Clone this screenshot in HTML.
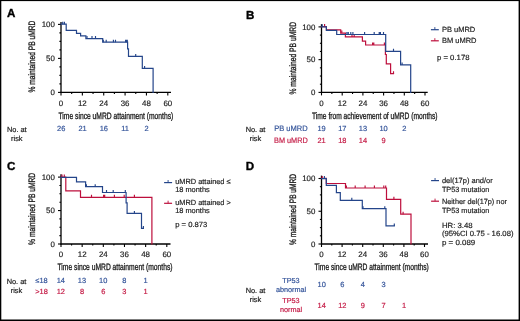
<!DOCTYPE html>
<html><head><meta charset="utf-8"><title>Figure</title>
<style>
html,body{margin:0;padding:0;background:#fff;}
body{width:520px;height:321px;overflow:hidden;}
svg{display:block;font-family:"Liberation Sans",sans-serif;will-change:transform;text-rendering:geometricPrecision;}
</style></head>
<body>
<svg width="520" height="321" viewBox="0 0 520 321">
<rect x="0" y="0" width="520" height="321" fill="#fff"/>
<g>
<text x="7.0" y="17.1" font-size="11.6" text-anchor="start" fill="#000" stroke="#000" stroke-width="0.35" font-weight="bold" >A</text>
<text transform="translate(34.8,92.6) rotate(-90)" x="0" y="0" font-size="9.4" fill="#1a1a1a" stroke="#1a1a1a" stroke-width="0.32" textLength="72.0" lengthAdjust="spacingAndGlyphs">% maintained PB uMRD</text>
<line x1="61.0" y1="21.9" x2="61.0" y2="93.0" stroke="#000" stroke-width="1.3"/>
<line x1="60.5" y1="92.4" x2="171" y2="92.4" stroke="#000" stroke-width="1.3"/>
<line x1="58.0" y1="92.40" x2="61.0" y2="92.40" stroke="#000" stroke-width="1.1"/>
<line x1="59.4" y1="83.90" x2="61.0" y2="83.90" stroke="#000" stroke-width="1.1"/>
<line x1="59.4" y1="75.40" x2="61.0" y2="75.40" stroke="#000" stroke-width="1.1"/>
<line x1="59.4" y1="66.90" x2="61.0" y2="66.90" stroke="#000" stroke-width="1.1"/>
<line x1="58.0" y1="58.40" x2="61.0" y2="58.40" stroke="#000" stroke-width="1.1"/>
<line x1="59.4" y1="49.90" x2="61.0" y2="49.90" stroke="#000" stroke-width="1.1"/>
<line x1="59.4" y1="41.40" x2="61.0" y2="41.40" stroke="#000" stroke-width="1.1"/>
<line x1="59.4" y1="32.90" x2="61.0" y2="32.90" stroke="#000" stroke-width="1.1"/>
<line x1="58.0" y1="24.40" x2="61.0" y2="24.40" stroke="#000" stroke-width="1.1"/>
<line x1="61.00" y1="92.4" x2="61.00" y2="95.4" stroke="#000" stroke-width="1.1"/>
<line x1="71.68" y1="92.4" x2="71.68" y2="94.0" stroke="#000" stroke-width="1.1"/>
<line x1="82.36" y1="92.4" x2="82.36" y2="95.4" stroke="#000" stroke-width="1.1"/>
<line x1="93.04" y1="92.4" x2="93.04" y2="94.0" stroke="#000" stroke-width="1.1"/>
<line x1="103.72" y1="92.4" x2="103.72" y2="95.4" stroke="#000" stroke-width="1.1"/>
<line x1="114.40" y1="92.4" x2="114.40" y2="94.0" stroke="#000" stroke-width="1.1"/>
<line x1="125.08" y1="92.4" x2="125.08" y2="95.4" stroke="#000" stroke-width="1.1"/>
<line x1="135.76" y1="92.4" x2="135.76" y2="94.0" stroke="#000" stroke-width="1.1"/>
<line x1="146.44" y1="92.4" x2="146.44" y2="95.4" stroke="#000" stroke-width="1.1"/>
<line x1="157.12" y1="92.4" x2="157.12" y2="94.0" stroke="#000" stroke-width="1.1"/>
<line x1="167.80" y1="92.4" x2="167.80" y2="95.4" stroke="#000" stroke-width="1.1"/>
<text x="54.8" y="27.20" font-size="7.9" text-anchor="end" fill="#222" stroke="#222" stroke-width="0.18" font-weight="normal" >100</text>
<text x="54.8" y="61.20" font-size="7.9" text-anchor="end" fill="#222" stroke="#222" stroke-width="0.18" font-weight="normal" >50</text>
<text x="54.8" y="95.20" font-size="7.9" text-anchor="end" fill="#222" stroke="#222" stroke-width="0.18" font-weight="normal" >0</text>
<text x="61.00" y="105.80000000000001" font-size="7.9" text-anchor="middle" fill="#222" stroke="#222" stroke-width="0.18" font-weight="normal" >0</text>
<text x="82.36" y="105.80000000000001" font-size="7.9" text-anchor="middle" fill="#222" stroke="#222" stroke-width="0.18" font-weight="normal" >12</text>
<text x="103.72" y="105.80000000000001" font-size="7.9" text-anchor="middle" fill="#222" stroke="#222" stroke-width="0.18" font-weight="normal" >24</text>
<text x="125.08" y="105.80000000000001" font-size="7.9" text-anchor="middle" fill="#222" stroke="#222" stroke-width="0.18" font-weight="normal" >36</text>
<text x="146.44" y="105.80000000000001" font-size="7.9" text-anchor="middle" fill="#222" stroke="#222" stroke-width="0.18" font-weight="normal" >48</text>
<text x="167.80" y="105.80000000000001" font-size="7.9" text-anchor="middle" fill="#222" stroke="#222" stroke-width="0.18" font-weight="normal" >60</text>
<text x="58.5" y="118.8" font-size="9.4" text-anchor="start" fill="#1a1a1a" stroke="#1a1a1a" stroke-width="0.32" textLength="114.8" lengthAdjust="spacingAndGlyphs">Time since uMRD attainment (months)</text>
<path d="M61,24.2 H66.2 V30.4 H76.5 V33.3 H80.6 V35.9 H85.9 V38.6 H102.7 V42.2 H127.6 V48.8 H128.5 V56.4 H142.3 V68.4 H153.1 V92.4" fill="none" stroke="#24458a" stroke-width="1.2" stroke-linejoin="miter" stroke-linecap="square"/>
<path d="M62.7,24.2 v-2.5 M64.4,24.2 v-2.5 M87.0,38.6 v-2.5 M92,38.6 v-2.5 M95.5,38.6 v-2.5 M103.3,42.2 v-2.5 M106.2,42.2 v-2.5 M113.4,42.2 v-2.5 M115.5,42.2 v-2.5 M125.6,42.2 v-2.5 M126.5,42.2 v-2.5 M127.3,42.2 v-2.5 M135.7,56.4 v-2.5 M144.6,68.4 v-2.5" fill="none" stroke="#24458a" stroke-width="1.15"/>
<text x="16.8" y="132.1" font-size="7.4" text-anchor="middle" fill="#1a1a1a" stroke="#1a1a1a" stroke-width="0.18" font-weight="normal" >No. at</text>
<text x="16.8" y="141.0" font-size="7.4" text-anchor="middle" fill="#1a1a1a" stroke="#1a1a1a" stroke-width="0.18" font-weight="normal" >risk</text>
<text x="61.20" y="131.0" font-size="7.45" text-anchor="middle" fill="#34549a" stroke="#34549a" stroke-width="0.18" font-weight="normal" >26</text>
<text x="82.52" y="131.0" font-size="7.45" text-anchor="middle" fill="#34549a" stroke="#34549a" stroke-width="0.18" font-weight="normal" >21</text>
<text x="103.84" y="131.0" font-size="7.45" text-anchor="middle" fill="#34549a" stroke="#34549a" stroke-width="0.18" font-weight="normal" >16</text>
<text x="125.16" y="131.0" font-size="7.45" text-anchor="middle" fill="#34549a" stroke="#34549a" stroke-width="0.18" font-weight="normal" >11</text>
<text x="146.48" y="131.0" font-size="7.45" text-anchor="middle" fill="#34549a" stroke="#34549a" stroke-width="0.18" font-weight="normal" >2</text>
<text x="246.0" y="19.2" font-size="11.6" text-anchor="start" fill="#000" stroke="#000" stroke-width="0.35" font-weight="bold" >B</text>
<text transform="translate(295.6,94.5) rotate(-90)" x="0" y="0" font-size="9.4" fill="#1a1a1a" stroke="#1a1a1a" stroke-width="0.32" textLength="72.5" lengthAdjust="spacingAndGlyphs">% maintained PB uMRD</text>
<line x1="321.5" y1="24.2" x2="321.5" y2="93.0" stroke="#000" stroke-width="1.3"/>
<line x1="321.0" y1="92.4" x2="427.7" y2="92.4" stroke="#000" stroke-width="1.3"/>
<line x1="318.5" y1="92.40" x2="321.5" y2="92.40" stroke="#000" stroke-width="1.1"/>
<line x1="319.9" y1="84.21" x2="321.5" y2="84.21" stroke="#000" stroke-width="1.1"/>
<line x1="319.9" y1="76.03" x2="321.5" y2="76.03" stroke="#000" stroke-width="1.1"/>
<line x1="319.9" y1="67.84" x2="321.5" y2="67.84" stroke="#000" stroke-width="1.1"/>
<line x1="318.5" y1="59.65" x2="321.5" y2="59.65" stroke="#000" stroke-width="1.1"/>
<line x1="319.9" y1="51.46" x2="321.5" y2="51.46" stroke="#000" stroke-width="1.1"/>
<line x1="319.9" y1="43.28" x2="321.5" y2="43.28" stroke="#000" stroke-width="1.1"/>
<line x1="319.9" y1="35.09" x2="321.5" y2="35.09" stroke="#000" stroke-width="1.1"/>
<line x1="318.5" y1="26.90" x2="321.5" y2="26.90" stroke="#000" stroke-width="1.1"/>
<line x1="321.50" y1="92.4" x2="321.50" y2="95.4" stroke="#000" stroke-width="1.1"/>
<line x1="331.85" y1="92.4" x2="331.85" y2="94.0" stroke="#000" stroke-width="1.1"/>
<line x1="342.20" y1="92.4" x2="342.20" y2="95.4" stroke="#000" stroke-width="1.1"/>
<line x1="352.55" y1="92.4" x2="352.55" y2="94.0" stroke="#000" stroke-width="1.1"/>
<line x1="362.90" y1="92.4" x2="362.90" y2="95.4" stroke="#000" stroke-width="1.1"/>
<line x1="373.25" y1="92.4" x2="373.25" y2="94.0" stroke="#000" stroke-width="1.1"/>
<line x1="383.60" y1="92.4" x2="383.60" y2="95.4" stroke="#000" stroke-width="1.1"/>
<line x1="393.95" y1="92.4" x2="393.95" y2="94.0" stroke="#000" stroke-width="1.1"/>
<line x1="404.30" y1="92.4" x2="404.30" y2="95.4" stroke="#000" stroke-width="1.1"/>
<line x1="414.65" y1="92.4" x2="414.65" y2="94.0" stroke="#000" stroke-width="1.1"/>
<line x1="425.00" y1="92.4" x2="425.00" y2="95.4" stroke="#000" stroke-width="1.1"/>
<text x="315.3" y="29.70" font-size="7.9" text-anchor="end" fill="#222" stroke="#222" stroke-width="0.18" font-weight="normal" >100</text>
<text x="315.3" y="62.45" font-size="7.9" text-anchor="end" fill="#222" stroke="#222" stroke-width="0.18" font-weight="normal" >50</text>
<text x="315.3" y="95.20" font-size="7.9" text-anchor="end" fill="#222" stroke="#222" stroke-width="0.18" font-weight="normal" >0</text>
<text x="321.50" y="105.80000000000001" font-size="7.9" text-anchor="middle" fill="#222" stroke="#222" stroke-width="0.18" font-weight="normal" >0</text>
<text x="342.20" y="105.80000000000001" font-size="7.9" text-anchor="middle" fill="#222" stroke="#222" stroke-width="0.18" font-weight="normal" >12</text>
<text x="362.90" y="105.80000000000001" font-size="7.9" text-anchor="middle" fill="#222" stroke="#222" stroke-width="0.18" font-weight="normal" >24</text>
<text x="383.60" y="105.80000000000001" font-size="7.9" text-anchor="middle" fill="#222" stroke="#222" stroke-width="0.18" font-weight="normal" >36</text>
<text x="404.30" y="105.80000000000001" font-size="7.9" text-anchor="middle" fill="#222" stroke="#222" stroke-width="0.18" font-weight="normal" >48</text>
<text x="425.00" y="105.80000000000001" font-size="7.9" text-anchor="middle" fill="#222" stroke="#222" stroke-width="0.18" font-weight="normal" >60</text>
<text x="312.0" y="118.6" font-size="9.4" text-anchor="start" fill="#1a1a1a" stroke="#1a1a1a" stroke-width="0.32" textLength="125.5" lengthAdjust="spacingAndGlyphs">Time from achievement of uMRD (months)</text>
<path d="M321.6,26.6 H326.4 V29.9 H340.7 V33.1 H345.4 V36.9 H362.4 V41.2 H365.6 V45 H385.4 V54.5 H386.3 V63.9 H390.6 V73.7 H393.5" fill="none" stroke="#bd0f3c" stroke-width="1.2" stroke-linejoin="miter" stroke-linecap="square"/>
<path d="M324.6,26.6 v-2.5 M341.8,33.1 v-2.5 M352,36.9 v-2.5 M354.2,36.9 v-2.5 M372.6,45 v-2.5 M373.8,45 v-2.5 M384.4,45 v-2.5 M393.5,73.7 v-2.5" fill="none" stroke="#bd0f3c" stroke-width="1.15"/>
<path d="M321.6,26.8 H326.4 V30.4 H336.7 V34.5 H385.7 V51.3 H400.6 V64.9 H410.7 V92.5" fill="none" stroke="#24458a" stroke-width="1.2" stroke-linejoin="miter" stroke-linecap="square"/>
<path d="M322.2,26.8 v-2.5 M346.9,34.5 v-2.5 M348.3,34.5 v-2.5 M350.8,34.5 v-2.5 M352.9,34.5 v-2.5 M364.6,34.5 v-2.5 M374.2,34.5 v-2.5 M379.2,34.5 v-2.5 M380.4,34.5 v-2.5 M383.5,34.5 v-2.5 M393.5,51.3 v-2.5 M402.1,64.9 v-2.5" fill="none" stroke="#24458a" stroke-width="1.15"/>
<line x1="430.9" y1="29.7" x2="438.8" y2="29.7" stroke="#24458a" stroke-width="1.2"/>
<line x1="434.85" y1="29.7" x2="434.85" y2="27.099999999999998" stroke="#24458a" stroke-width="0.9"/>
<text x="441.9" y="31.9" font-size="7.5" text-anchor="start" fill="#1e1e1e" stroke="#1e1e1e" stroke-width="0.18" font-weight="normal" >PB uMRD</text>
<line x1="430.9" y1="40.8" x2="438.8" y2="40.8" stroke="#bd0f3c" stroke-width="1.2"/>
<line x1="434.85" y1="40.8" x2="434.85" y2="38.199999999999996" stroke="#bd0f3c" stroke-width="0.9"/>
<text x="441.9" y="43.3" font-size="7.5" text-anchor="start" fill="#1e1e1e" stroke="#1e1e1e" stroke-width="0.18" font-weight="normal" >BM uMRD</text>
<text x="437.0" y="59.7" font-size="7.5" text-anchor="start" fill="#1e1e1e" stroke="#1e1e1e" stroke-width="0.18" font-weight="normal"  textLength="32.5" lengthAdjust="spacingAndGlyphs">p = 0.178</text>
<text x="255.5" y="132.2" font-size="7.4" text-anchor="middle" fill="#1a1a1a" stroke="#1a1a1a" stroke-width="0.18" font-weight="normal" >No. at</text>
<text x="255.5" y="141.1" font-size="7.4" text-anchor="middle" fill="#1a1a1a" stroke="#1a1a1a" stroke-width="0.18" font-weight="normal" >risk</text>
<text x="274.2" y="130.9" font-size="7.8" text-anchor="start" fill="#34549a" stroke="#34549a" stroke-width="0.18" font-weight="normal"  textLength="33.4" lengthAdjust="spacingAndGlyphs">PB uMRD</text>
<text x="274.0" y="142.7" font-size="7.8" text-anchor="start" fill="#c41a45" stroke="#c41a45" stroke-width="0.18" font-weight="normal"  textLength="33.8" lengthAdjust="spacingAndGlyphs">BM uMRD</text>
<text x="321.60" y="131.0" font-size="7.45" text-anchor="middle" fill="#34549a" stroke="#34549a" stroke-width="0.18" font-weight="normal" >19</text>
<text x="342.28" y="131.0" font-size="7.45" text-anchor="middle" fill="#34549a" stroke="#34549a" stroke-width="0.18" font-weight="normal" >17</text>
<text x="362.96" y="131.0" font-size="7.45" text-anchor="middle" fill="#34549a" stroke="#34549a" stroke-width="0.18" font-weight="normal" >13</text>
<text x="383.64" y="131.0" font-size="7.45" text-anchor="middle" fill="#34549a" stroke="#34549a" stroke-width="0.18" font-weight="normal" >10</text>
<text x="404.32" y="131.0" font-size="7.45" text-anchor="middle" fill="#34549a" stroke="#34549a" stroke-width="0.18" font-weight="normal" >2</text>
<text x="321.60" y="142.8" font-size="7.45" text-anchor="middle" fill="#c41a45" stroke="#c41a45" stroke-width="0.18" font-weight="normal" >21</text>
<text x="342.28" y="142.8" font-size="7.45" text-anchor="middle" fill="#c41a45" stroke="#c41a45" stroke-width="0.18" font-weight="normal" >18</text>
<text x="362.96" y="142.8" font-size="7.45" text-anchor="middle" fill="#c41a45" stroke="#c41a45" stroke-width="0.18" font-weight="normal" >14</text>
<text x="383.64" y="142.8" font-size="7.45" text-anchor="middle" fill="#c41a45" stroke="#c41a45" stroke-width="0.18" font-weight="normal" >9</text>
<text x="7.0" y="169.8" font-size="11.6" text-anchor="start" fill="#000" stroke="#000" stroke-width="0.35" font-weight="bold" >C</text>
<text transform="translate(35.0,244.9) rotate(-90)" x="0" y="0" font-size="9.4" fill="#1a1a1a" stroke="#1a1a1a" stroke-width="0.32" textLength="72.1" lengthAdjust="spacingAndGlyphs">% maintained PB uMRD</text>
<line x1="61.0" y1="174.3" x2="61.0" y2="244.6" stroke="#000" stroke-width="1.3"/>
<line x1="60.5" y1="244.0" x2="170.5" y2="244.0" stroke="#000" stroke-width="1.3"/>
<line x1="58.0" y1="244.00" x2="61.0" y2="244.00" stroke="#000" stroke-width="1.1"/>
<line x1="59.4" y1="235.64" x2="61.0" y2="235.64" stroke="#000" stroke-width="1.1"/>
<line x1="59.4" y1="227.28" x2="61.0" y2="227.28" stroke="#000" stroke-width="1.1"/>
<line x1="59.4" y1="218.91" x2="61.0" y2="218.91" stroke="#000" stroke-width="1.1"/>
<line x1="58.0" y1="210.55" x2="61.0" y2="210.55" stroke="#000" stroke-width="1.1"/>
<line x1="59.4" y1="202.19" x2="61.0" y2="202.19" stroke="#000" stroke-width="1.1"/>
<line x1="59.4" y1="193.82" x2="61.0" y2="193.82" stroke="#000" stroke-width="1.1"/>
<line x1="59.4" y1="185.46" x2="61.0" y2="185.46" stroke="#000" stroke-width="1.1"/>
<line x1="58.0" y1="177.10" x2="61.0" y2="177.10" stroke="#000" stroke-width="1.1"/>
<line x1="61.00" y1="244.0" x2="61.00" y2="247.0" stroke="#000" stroke-width="1.1"/>
<line x1="71.58" y1="244.0" x2="71.58" y2="245.6" stroke="#000" stroke-width="1.1"/>
<line x1="82.16" y1="244.0" x2="82.16" y2="247.0" stroke="#000" stroke-width="1.1"/>
<line x1="92.74" y1="244.0" x2="92.74" y2="245.6" stroke="#000" stroke-width="1.1"/>
<line x1="103.32" y1="244.0" x2="103.32" y2="247.0" stroke="#000" stroke-width="1.1"/>
<line x1="113.90" y1="244.0" x2="113.90" y2="245.6" stroke="#000" stroke-width="1.1"/>
<line x1="124.48" y1="244.0" x2="124.48" y2="247.0" stroke="#000" stroke-width="1.1"/>
<line x1="135.06" y1="244.0" x2="135.06" y2="245.6" stroke="#000" stroke-width="1.1"/>
<line x1="145.64" y1="244.0" x2="145.64" y2="247.0" stroke="#000" stroke-width="1.1"/>
<line x1="156.22" y1="244.0" x2="156.22" y2="245.6" stroke="#000" stroke-width="1.1"/>
<line x1="166.80" y1="244.0" x2="166.80" y2="247.0" stroke="#000" stroke-width="1.1"/>
<text x="54.8" y="179.90" font-size="7.9" text-anchor="end" fill="#222" stroke="#222" stroke-width="0.18" font-weight="normal" >100</text>
<text x="54.8" y="213.35" font-size="7.9" text-anchor="end" fill="#222" stroke="#222" stroke-width="0.18" font-weight="normal" >50</text>
<text x="54.8" y="246.80" font-size="7.9" text-anchor="end" fill="#222" stroke="#222" stroke-width="0.18" font-weight="normal" >0</text>
<text x="61.00" y="257.4" font-size="7.9" text-anchor="middle" fill="#222" stroke="#222" stroke-width="0.18" font-weight="normal" >0</text>
<text x="82.16" y="257.4" font-size="7.9" text-anchor="middle" fill="#222" stroke="#222" stroke-width="0.18" font-weight="normal" >12</text>
<text x="103.32" y="257.4" font-size="7.9" text-anchor="middle" fill="#222" stroke="#222" stroke-width="0.18" font-weight="normal" >24</text>
<text x="124.48" y="257.4" font-size="7.9" text-anchor="middle" fill="#222" stroke="#222" stroke-width="0.18" font-weight="normal" >36</text>
<text x="145.64" y="257.4" font-size="7.9" text-anchor="middle" fill="#222" stroke="#222" stroke-width="0.18" font-weight="normal" >48</text>
<text x="166.80" y="257.4" font-size="7.9" text-anchor="middle" fill="#222" stroke="#222" stroke-width="0.18" font-weight="normal" >60</text>
<text x="57.5" y="270.0" font-size="9.4" text-anchor="start" fill="#1a1a1a" stroke="#1a1a1a" stroke-width="0.32" textLength="115.0" lengthAdjust="spacingAndGlyphs">Time since uMRD attainment (months)</text>
<path d="M61,177.1 H65.8 V190.9 H80.5 V197.3 H151.9 V244" fill="none" stroke="#bd0f3c" stroke-width="1.2" stroke-linejoin="miter" stroke-linecap="square"/>
<path d="M62,177.1 v-2.5 M64.3,177.1 v-2.5 M91.5,197.3 v-2.5 M103.6,197.3 v-2.5 M104.7,197.3 v-2.5 M114.4,197.3 v-2.5 M124.2,197.3 v-2.5 M134.4,197.3 v-2.5" fill="none" stroke="#bd0f3c" stroke-width="1.15"/>
<path d="M61,177.3 H76.5 V181.8 H85.6 V186.7 H102.5 V192.5 H126.1 V202.9 H127.1 V213.4 H141.5 V228.4 H143.4" fill="none" stroke="#24458a" stroke-width="1.2" stroke-linejoin="miter" stroke-linecap="square"/>
<path d="M86.4,186.7 v-2.5 M95.2,186.7 v-2.5 M106.5,192.5 v-2.5 M113.2,192.5 v-2.5 M125.3,192.5 v-2.5 M134.4,213.4 v-2.5 M143.4,228.4 v-2.5" fill="none" stroke="#24458a" stroke-width="1.15"/>
<line x1="164.1" y1="182.6" x2="172.1" y2="182.6" stroke="#24458a" stroke-width="1.2"/>
<line x1="168.1" y1="182.6" x2="168.1" y2="180.0" stroke="#24458a" stroke-width="0.9"/>
<text x="175.2" y="183.7" font-size="7.4" text-anchor="start" fill="#1e1e1e" stroke="#1e1e1e" stroke-width="0.18" font-weight="normal" >uMRD attained ≤</text>
<text x="175.2" y="192.4" font-size="7.4" text-anchor="start" fill="#1e1e1e" stroke="#1e1e1e" stroke-width="0.18" font-weight="normal" >18 months</text>
<line x1="164.1" y1="203.3" x2="172.1" y2="203.3" stroke="#bd0f3c" stroke-width="1.2"/>
<line x1="168.1" y1="203.3" x2="168.1" y2="200.70000000000002" stroke="#bd0f3c" stroke-width="0.9"/>
<text x="175.2" y="204.5" font-size="7.4" text-anchor="start" fill="#1e1e1e" stroke="#1e1e1e" stroke-width="0.18" font-weight="normal" >uMRD attained &gt;</text>
<text x="175.2" y="213.1" font-size="7.4" text-anchor="start" fill="#1e1e1e" stroke="#1e1e1e" stroke-width="0.18" font-weight="normal" >18 months</text>
<text x="175.2" y="227.1" font-size="7.4" text-anchor="start" fill="#1e1e1e" stroke="#1e1e1e" stroke-width="0.18" font-weight="normal"  textLength="32.1" lengthAdjust="spacingAndGlyphs">p = 0.873</text>
<text x="16.5" y="283.8" font-size="7.4" text-anchor="middle" fill="#1a1a1a" stroke="#1a1a1a" stroke-width="0.18" font-weight="normal" >No. at</text>
<text x="16.5" y="292.9" font-size="7.4" text-anchor="middle" fill="#1a1a1a" stroke="#1a1a1a" stroke-width="0.18" font-weight="normal" >risk</text>
<text x="41.5" y="283.0" font-size="7.4" text-anchor="middle" fill="#34549a" stroke="#34549a" stroke-width="0.18" font-weight="normal" >≤18</text>
<text x="41.5" y="294.0" font-size="7.4" text-anchor="middle" fill="#c41a45" stroke="#c41a45" stroke-width="0.18" font-weight="normal" >&gt;18</text>
<text x="60.80" y="282.6" font-size="7.45" text-anchor="middle" fill="#34549a" stroke="#34549a" stroke-width="0.18" font-weight="normal" >14</text>
<text x="82.00" y="282.6" font-size="7.45" text-anchor="middle" fill="#34549a" stroke="#34549a" stroke-width="0.18" font-weight="normal" >13</text>
<text x="103.20" y="282.6" font-size="7.45" text-anchor="middle" fill="#34549a" stroke="#34549a" stroke-width="0.18" font-weight="normal" >10</text>
<text x="124.40" y="282.6" font-size="7.45" text-anchor="middle" fill="#34549a" stroke="#34549a" stroke-width="0.18" font-weight="normal" >8</text>
<text x="145.60" y="282.6" font-size="7.45" text-anchor="middle" fill="#34549a" stroke="#34549a" stroke-width="0.18" font-weight="normal" >1</text>
<text x="60.80" y="293.8" font-size="7.45" text-anchor="middle" fill="#c41a45" stroke="#c41a45" stroke-width="0.18" font-weight="normal" >12</text>
<text x="82.00" y="293.8" font-size="7.45" text-anchor="middle" fill="#c41a45" stroke="#c41a45" stroke-width="0.18" font-weight="normal" >8</text>
<text x="103.20" y="293.8" font-size="7.45" text-anchor="middle" fill="#c41a45" stroke="#c41a45" stroke-width="0.18" font-weight="normal" >6</text>
<text x="124.40" y="293.8" font-size="7.45" text-anchor="middle" fill="#c41a45" stroke="#c41a45" stroke-width="0.18" font-weight="normal" >3</text>
<text x="145.60" y="293.8" font-size="7.45" text-anchor="middle" fill="#c41a45" stroke="#c41a45" stroke-width="0.18" font-weight="normal" >1</text>
<text x="245.8" y="169.8" font-size="11.6" text-anchor="start" fill="#000" stroke="#000" stroke-width="0.35" font-weight="bold" >D</text>
<text transform="translate(295.5,244.9) rotate(-90)" x="0" y="0" font-size="9.4" fill="#1a1a1a" stroke="#1a1a1a" stroke-width="0.32" textLength="70.9" lengthAdjust="spacingAndGlyphs">% maintained PB uMRD</text>
<line x1="321.5" y1="175.6" x2="321.5" y2="244.6" stroke="#000" stroke-width="1.3"/>
<line x1="321.0" y1="244.0" x2="428.0" y2="244.0" stroke="#000" stroke-width="1.3"/>
<line x1="318.5" y1="244.00" x2="321.5" y2="244.00" stroke="#000" stroke-width="1.1"/>
<line x1="319.9" y1="235.81" x2="321.5" y2="235.81" stroke="#000" stroke-width="1.1"/>
<line x1="319.9" y1="227.62" x2="321.5" y2="227.62" stroke="#000" stroke-width="1.1"/>
<line x1="319.9" y1="219.44" x2="321.5" y2="219.44" stroke="#000" stroke-width="1.1"/>
<line x1="318.5" y1="211.25" x2="321.5" y2="211.25" stroke="#000" stroke-width="1.1"/>
<line x1="319.9" y1="203.06" x2="321.5" y2="203.06" stroke="#000" stroke-width="1.1"/>
<line x1="319.9" y1="194.88" x2="321.5" y2="194.88" stroke="#000" stroke-width="1.1"/>
<line x1="319.9" y1="186.69" x2="321.5" y2="186.69" stroke="#000" stroke-width="1.1"/>
<line x1="318.5" y1="178.50" x2="321.5" y2="178.50" stroke="#000" stroke-width="1.1"/>
<line x1="321.50" y1="244.0" x2="321.50" y2="247.0" stroke="#000" stroke-width="1.1"/>
<line x1="331.80" y1="244.0" x2="331.80" y2="245.6" stroke="#000" stroke-width="1.1"/>
<line x1="342.10" y1="244.0" x2="342.10" y2="247.0" stroke="#000" stroke-width="1.1"/>
<line x1="352.40" y1="244.0" x2="352.40" y2="245.6" stroke="#000" stroke-width="1.1"/>
<line x1="362.70" y1="244.0" x2="362.70" y2="247.0" stroke="#000" stroke-width="1.1"/>
<line x1="373.00" y1="244.0" x2="373.00" y2="245.6" stroke="#000" stroke-width="1.1"/>
<line x1="383.30" y1="244.0" x2="383.30" y2="247.0" stroke="#000" stroke-width="1.1"/>
<line x1="393.60" y1="244.0" x2="393.60" y2="245.6" stroke="#000" stroke-width="1.1"/>
<line x1="403.90" y1="244.0" x2="403.90" y2="247.0" stroke="#000" stroke-width="1.1"/>
<line x1="414.20" y1="244.0" x2="414.20" y2="245.6" stroke="#000" stroke-width="1.1"/>
<line x1="424.50" y1="244.0" x2="424.50" y2="247.0" stroke="#000" stroke-width="1.1"/>
<text x="315.3" y="181.30" font-size="7.9" text-anchor="end" fill="#222" stroke="#222" stroke-width="0.18" font-weight="normal" >100</text>
<text x="315.3" y="214.05" font-size="7.9" text-anchor="end" fill="#222" stroke="#222" stroke-width="0.18" font-weight="normal" >50</text>
<text x="315.3" y="246.80" font-size="7.9" text-anchor="end" fill="#222" stroke="#222" stroke-width="0.18" font-weight="normal" >0</text>
<text x="321.50" y="257.4" font-size="7.9" text-anchor="middle" fill="#222" stroke="#222" stroke-width="0.18" font-weight="normal" >0</text>
<text x="342.10" y="257.4" font-size="7.9" text-anchor="middle" fill="#222" stroke="#222" stroke-width="0.18" font-weight="normal" >12</text>
<text x="362.70" y="257.4" font-size="7.9" text-anchor="middle" fill="#222" stroke="#222" stroke-width="0.18" font-weight="normal" >24</text>
<text x="383.30" y="257.4" font-size="7.9" text-anchor="middle" fill="#222" stroke="#222" stroke-width="0.18" font-weight="normal" >36</text>
<text x="403.90" y="257.4" font-size="7.9" text-anchor="middle" fill="#222" stroke="#222" stroke-width="0.18" font-weight="normal" >48</text>
<text x="424.50" y="257.4" font-size="7.9" text-anchor="middle" fill="#222" stroke="#222" stroke-width="0.18" font-weight="normal" >60</text>
<text x="314.5" y="270.0" font-size="9.4" text-anchor="start" fill="#1a1a1a" stroke="#1a1a1a" stroke-width="0.32" textLength="114.3" lengthAdjust="spacingAndGlyphs">Time since uMRD attainment (months)</text>
<path d="M321.4,178.4 H326.3 V183.5 H345.5 V188 H386.5 V199.3 H400.7 V214.2 H411 V243.8" fill="none" stroke="#bd0f3c" stroke-width="1.2" stroke-linejoin="miter" stroke-linecap="square"/>
<path d="M322.2,178.4 v-2.5 M346.4,188 v-2.5 M355.2,188 v-2.5 M365.1,188 v-2.5 M374.4,188 v-2.5 M383.8,188 v-2.5 M385.7,188 v-2.5 M393.9,199.3 v-2.5 M403.1,214.2 v-2.5" fill="none" stroke="#bd0f3c" stroke-width="1.15"/>
<path d="M321.4,178.6 H326.3 V185.3 H336.4 V192.7 H340.3 V200.3 H362.3 V208.7 H386 V225.9 H394.3" fill="none" stroke="#24458a" stroke-width="1.2" stroke-linejoin="miter" stroke-linecap="square"/>
<path d="M324.4,178.6 v-2.5 M351.8,200.3 v-2.5 M363,208.7 v-2.5 M384.8,208.7 v-2.5 M394.3,225.9 v-2.5" fill="none" stroke="#24458a" stroke-width="1.15"/>
<line x1="431.1" y1="180.6" x2="439.0" y2="180.6" stroke="#24458a" stroke-width="1.2"/>
<line x1="435.05" y1="180.6" x2="435.05" y2="178.0" stroke="#24458a" stroke-width="0.9"/>
<text x="441.9" y="183.3" font-size="7.5" text-anchor="start" fill="#1e1e1e" stroke="#1e1e1e" stroke-width="0.18" font-weight="normal" >del(17p) and/or</text>
<text x="441.9" y="192.4" font-size="7.5" text-anchor="start" fill="#1e1e1e" stroke="#1e1e1e" stroke-width="0.18" font-weight="normal"  textLength="47.4" lengthAdjust="spacingAndGlyphs">TP53 mutation</text>
<line x1="431.1" y1="201.2" x2="439.0" y2="201.2" stroke="#bd0f3c" stroke-width="1.2"/>
<line x1="435.05" y1="201.2" x2="435.05" y2="198.6" stroke="#bd0f3c" stroke-width="0.9"/>
<text x="441.9" y="203.7" font-size="7.5" text-anchor="start" fill="#1e1e1e" stroke="#1e1e1e" stroke-width="0.18" font-weight="normal"  textLength="65.0" lengthAdjust="spacingAndGlyphs">Neither del(17p) nor</text>
<text x="441.9" y="212.7" font-size="7.5" text-anchor="start" fill="#1e1e1e" stroke="#1e1e1e" stroke-width="0.18" font-weight="normal"  textLength="47.4" lengthAdjust="spacingAndGlyphs">TP53 mutation</text>
<text x="441.9" y="227.6" font-size="7.5" text-anchor="start" fill="#1e1e1e" stroke="#1e1e1e" stroke-width="0.18" font-weight="normal"  textLength="30.8" lengthAdjust="spacingAndGlyphs">HR: 3.48</text>
<text x="441.9" y="236.3" font-size="7.5" text-anchor="start" fill="#1e1e1e" stroke="#1e1e1e" stroke-width="0.18" font-weight="normal"  textLength="71.6" lengthAdjust="spacingAndGlyphs">(95%CI 0.75 - 16.08)</text>
<text x="441.9" y="245.4" font-size="7.5" text-anchor="start" fill="#1e1e1e" stroke="#1e1e1e" stroke-width="0.18" font-weight="normal"  textLength="33.4" lengthAdjust="spacingAndGlyphs">p = 0.089</text>
<text x="255.5" y="292.8" font-size="7.4" text-anchor="middle" fill="#1a1a1a" stroke="#1a1a1a" stroke-width="0.18" font-weight="normal" >No. at</text>
<text x="255.5" y="301.5" font-size="7.4" text-anchor="middle" fill="#1a1a1a" stroke="#1a1a1a" stroke-width="0.18" font-weight="normal" >risk</text>
<text x="291.0" y="282.9" font-size="7.25" text-anchor="middle" fill="#34549a" stroke="#34549a" stroke-width="0.18" font-weight="normal" >TP53</text>
<text x="291.0" y="291.8" font-size="7.25" text-anchor="middle" fill="#34549a" stroke="#34549a" stroke-width="0.18" font-weight="normal" >abnormal</text>
<text x="291.0" y="302.8" font-size="7.25" text-anchor="middle" fill="#c41a45" stroke="#c41a45" stroke-width="0.18" font-weight="normal" >TP53</text>
<text x="291.0" y="311.9" font-size="7.25" text-anchor="middle" fill="#c41a45" stroke="#c41a45" stroke-width="0.18" font-weight="normal" >normal</text>
<text x="321.70" y="286.9" font-size="7.45" text-anchor="middle" fill="#34549a" stroke="#34549a" stroke-width="0.18" font-weight="normal" >10</text>
<text x="342.32" y="286.9" font-size="7.45" text-anchor="middle" fill="#34549a" stroke="#34549a" stroke-width="0.18" font-weight="normal" >6</text>
<text x="362.94" y="286.9" font-size="7.45" text-anchor="middle" fill="#34549a" stroke="#34549a" stroke-width="0.18" font-weight="normal" >4</text>
<text x="383.56" y="286.9" font-size="7.45" text-anchor="middle" fill="#34549a" stroke="#34549a" stroke-width="0.18" font-weight="normal" >3</text>
<text x="321.70" y="307.6" font-size="7.45" text-anchor="middle" fill="#c41a45" stroke="#c41a45" stroke-width="0.18" font-weight="normal" >14</text>
<text x="342.32" y="307.6" font-size="7.45" text-anchor="middle" fill="#c41a45" stroke="#c41a45" stroke-width="0.18" font-weight="normal" >12</text>
<text x="362.94" y="307.6" font-size="7.45" text-anchor="middle" fill="#c41a45" stroke="#c41a45" stroke-width="0.18" font-weight="normal" >9</text>
<text x="383.56" y="307.6" font-size="7.45" text-anchor="middle" fill="#c41a45" stroke="#c41a45" stroke-width="0.18" font-weight="normal" >7</text>
<text x="404.18" y="307.6" font-size="7.45" text-anchor="middle" fill="#c41a45" stroke="#c41a45" stroke-width="0.18" font-weight="normal" >1</text>
</g>
<rect x="0" y="0" width="1.3" height="321" fill="#000"/>
<rect x="0" y="0" width="520" height="1.1" fill="#000"/>
<rect x="518.6" y="0" width="1.4" height="321" fill="#000"/>
<rect x="0" y="319.5" width="520" height="1.5" fill="#000"/>
</svg>
</body></html>
